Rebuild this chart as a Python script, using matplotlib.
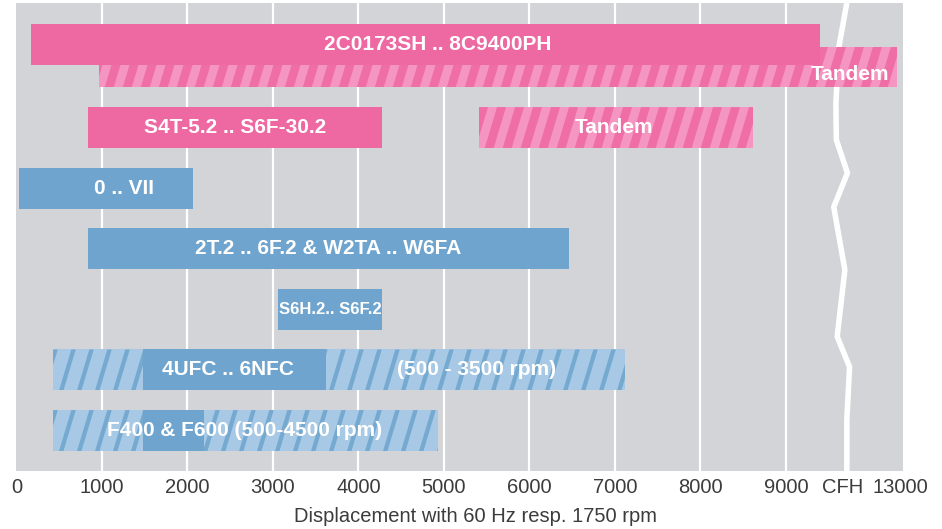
import matplotlib
matplotlib.use("Agg")
import matplotlib.pyplot as plt
from matplotlib.patches import Rectangle, Polygon

# ---- data (x in displacement units, y = row index, top row first) ----
solid_labels = ["2C0173SH .. 8C9400PH", "S4T-5.2 .. S6F-30.2", "0 .. VII",
                "2T.2 .. 6F.2 & W2TA .. W6FA", "S6H.2 .. S6F.2"]
solid_start = [173, 840, 30, 840, 3060]
solid_end = [9400, 4280, 2060, 6460, 4280]
solid_row = [-0.37, 1, 2, 3, 4]
solid_kind = ["pink", "pink", "blue", "blue", "blue"]

hatch_start = [965, 5410, 430, 430]
hatch_end = [10300, 8615, 7120, 4930]
hatch_row = [0, 1, 5, 6]
hatch_kind = ["pink", "pink", "blue", "blue"]

# solid cores inside the hatched blue bars
core_start = [1480, 1480]
core_end = [3620, 2195]
core_row = [5, 6]

# extra texts: (text, x, row)
extra_text = ["Tandem", "Tandem", "4UFC .. 6NFC", "(500 - 3500 rpm)", "F400 & F600 (500-4500 rpm)"]
extra_x = [9750, 6990, 2475, 5385, 2670]
extra_row = [0.12, 1, 5, 5, 6]
solid_text_x = [4930, 2560, 1260, 3650, 3670]

grid_x = [1000, 2000, 3000, 4000, 5000, 6000, 7000, 8000, 9000]
tick_pos = [0, 1000, 2000, 3000, 4000, 5000, 6000, 7000, 8000, 9000, 9667, 10345]
tick_lab = ["0", "1000", "2000", "3000", "4000", "5000", "6000", "7000", "8000", "9000",
            "CFH", "13000"]

# axis break squiggle
break_x = [9713, 9620, 9585, 9590, 9720, 9560, 9690, 9600, 9745, 9713, 9713]
break_y = [-1.06, -0.33, 0.6, 1.2, 1.75, 2.31, 3.35, 4.45, 4.95, 5.82, 6.67]

COLORS = {
    "pink": ("#ee68a2", "#f595c2"),
    "blue": ("#6ea4cd", "#a7c9e5"),
}
BG = "#d2d4d7"
BAR_H = 0.675
XMIN, XMAX = -6, 10370
YTOP, YBOT = -1.056, 6.668

label_font = ["Liberation Sans", "DejaVu Sans"]

fig = plt.figure(figsize=(9.42, 5.29), dpi=100)
ax = fig.add_axes([16 / 942, 58 / 529, 887 / 942, 468 / 529])
ax.set_facecolor(BG)
ax.set_xlim(XMIN, XMAX)
ax.set_ylim(YBOT, YTOP)
for s in ax.spines.values():
    s.set_visible(False)

for gx in grid_x:
    ax.axvline(gx, color="white", lw=1.6, zorder=1)

ax.plot(break_x, break_y, color="white", lw=4, solid_joinstyle="round",
        solid_capstyle="butt", zorder=1.5)

# pixel -> data scale for stripe geometry
ax_w_px = 887
ax_h_px = 468
xpp = (XMAX - XMIN) / ax_w_px
ypp = (YBOT - YTOP) / ax_h_px


def hatched_bar(x0, x1, row, kind):
    dark, light = COLORS[kind]
    rect = Rectangle((x0, row - BAR_H / 2), x1 - x0, BAR_H, facecolor=light,
                     edgecolor="none", zorder=2)
    ax.add_patch(rect)
    period = 18 * xpp
    width = (9 if kind == "pink" else 4.5) * xpp
    h_px = BAR_H / ypp
    shear = 0.30 * h_px * xpp
    ybot = row + BAR_H / 2
    ytop = row - BAR_H / 2
    s = x0 - shear
    while s < x1:
        poly = Polygon([(s, ybot), (s + width, ybot), (s + width + shear, ytop),
                        (s + shear, ytop)], closed=True, facecolor=dark,
                       edgecolor="none", alpha=0.85, zorder=2.5)
        ax.add_patch(poly)
        poly.set_clip_path(rect)
        s += period


for x0, x1, r, k in zip(hatch_start, hatch_end, hatch_row, hatch_kind):
    hatched_bar(x0, x1, r, k)

for x0, x1, r in zip(core_start, core_end, core_row):
    ax.barh(r, x1 - x0, left=x0, height=BAR_H, color=COLORS["blue"][0], zorder=3)

for x0, x1, r, k in zip(solid_start, solid_end, solid_row, solid_kind):
    ax.barh(r, x1 - x0, left=x0, height=BAR_H, color=COLORS[k][0], zorder=3)

for lab, tx, r in zip(solid_labels, solid_text_x, solid_row):
    small = lab.startswith("S6H")
    ax.text(tx, r, lab.replace(" .. ", ".. ") if small else lab, color="white",
            fontweight="bold", family=label_font,
            fontsize=12 if small else 15, ha="center", va="center", zorder=5)
for lab, tx, r in zip(extra_text, extra_x, extra_row):
    ax.text(tx, r, lab, color="white", fontweight="bold", family=label_font,
            fontsize=15, ha="center", va="center", zorder=5)

ax.set_yticks([])
ax.set_xticks(tick_pos)
ax.set_xticklabels(tick_lab, family=["Liberation Sans", "DejaVu Sans"], fontsize=14.5,
                   color="#3c3c3c")
ax.tick_params(axis="x", length=0, pad=5)

fig.text(476 / 942, 1 - 516 / 529, "Displacement with 60 Hz resp. 1750 rpm",
         family=["Liberation Sans", "DejaVu Sans"], fontsize=14.5, color="#3c3c3c",
         ha="center", va="center")

fig.savefig("out.png", dpi=100, facecolor="white")
